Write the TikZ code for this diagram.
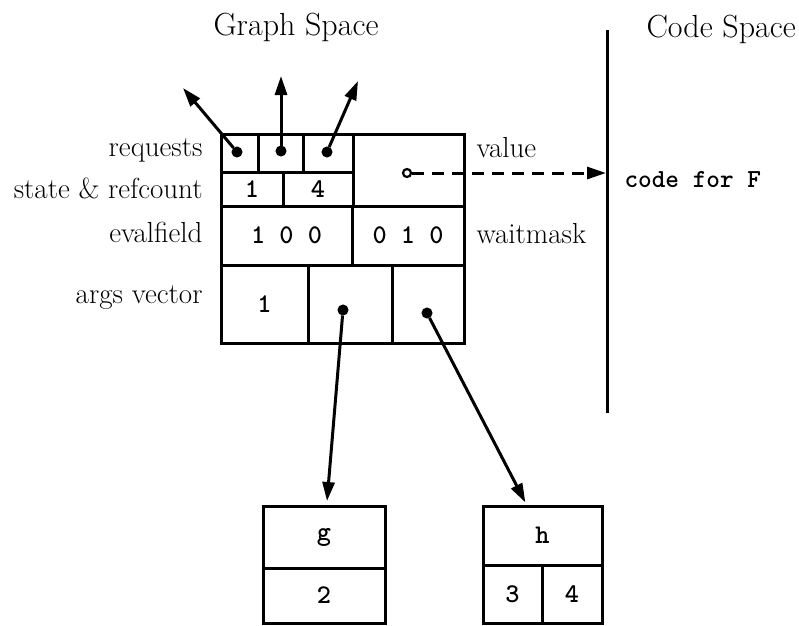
\documentclass[tikz,border=0pt]{standalone}
\usetikzlibrary{arrows.meta}
\begin{document}
\begin{tikzpicture}[x=1pt, y=-1pt, line width=3pt,
  cell/.style={draw, rectangle, inner sep=0pt, outer sep=0pt, anchor=north west,
    font=\ttfamily\bfseries\fontsize{27}{30}\selectfont},
  lbl/.style={font=\fontsize{29}{32}\selectfont, inner sep=0pt},
  ttl/.style={font=\fontsize{32}{36}\selectfont, inner sep=0pt, anchor=base west},
  ttlbl/.style={font=\ttfamily\bfseries\fontsize{26}{30}\selectfont, inner sep=0pt, anchor=base west},
  dot/.style={circle, fill, draw, inner sep=0pt, minimum size=10pt, line width=1pt},
  odot/.style={circle, draw, fill=white, inner sep=0pt, minimum size=8pt, line width=2.2pt},
  ptr/.style={-{Triangle[length=19pt,width=12pt]}},
  dashptr/.style={ptr, dash pattern=on 12pt off 8pt},
]
\useasboundingbox (0,0) rectangle (799,625);

% headings
\node[ttl] (gs) at (212,35) {Graph Space};
\node[ttl] (cs) at (645,37) {Code Space};

% the node record: requests row
\node[cell, minimum width=37pt, minimum height=38pt] (r1) at (221,134) {};
\node[cell, minimum width=45pt, minimum height=38pt] (r2) at (258,134) {};
\node[cell, minimum width=50pt, minimum height=38pt] (r3) at (303,134) {};
\node[cell, minimum width=111pt, minimum height=72pt] (val) at (353,134) {};
% state & refcount row
\node[cell, minimum width=62pt, minimum height=34pt] (s1) at (221,172) {1};
\node[cell, minimum width=70pt, minimum height=34pt] (s2) at (283,172) {4};
% evalfield / waitmask row
\node[cell, minimum width=131pt, minimum height=59pt] (e1) at (221,206) {1 0 0};
\node[cell, minimum width=112pt, minimum height=59pt] (e2) at (352,206) {0 1 0};
% args vector row
\node[cell, minimum width=87pt, minimum height=78pt] (a1) at (221,265) {1};
\node[cell, minimum width=84pt, minimum height=78pt] (a2) at (308,265) {};
\node[cell, minimum width=72pt, minimum height=78pt] (a3) at (392,265) {};

% field labels
\node[lbl, anchor=base east] (lreq) at (204,156) {requests};
\node[lbl, anchor=base east] (lst) at (204,198) {state \& refcount};
\node[lbl, anchor=base east] (lev) at (204,242) {evalfield};
\node[lbl, anchor=base east] (lav) at (204,303) {args vector};
\node[lbl, anchor=base west] (lval) at (475,157) {value};
\node[lbl, anchor=base west] (lwm) at (475,243) {waitmask};

% argument records
\node[cell, minimum width=122pt, minimum height=62pt] (g1) at (263,506) {g};
\node[cell, minimum width=122pt, minimum height=55pt] (g2) at (263,568) {2};
\node[cell, minimum width=119pt, minimum height=59pt] (h1) at (483,506) {h};
\node[cell, minimum width=59pt, minimum height=58pt] (h2) at (483,565) {3};
\node[cell, minimum width=60pt, minimum height=58pt] (h3) at (542,565) {4};

% code space divider and its label
\coordinate (cstop) at (607,30);
\coordinate (csbot) at (607,413);
\draw (cstop) -- (csbot);
\node[ttlbl] (code) at (623,187) {code for F};

% request pointers
\node[dot] (d1) at (237,152) {};
\node[dot] (d2) at (281,151) {};
\node[dot] (d3) at (327,152) {};
\coordinate (t1) at (183,88);
\coordinate (t2) at (281,76);
\coordinate (t3) at (358,81);
\draw[ptr] (d1) -- (t1);
\draw[ptr] (d2) -- (t2);
\draw[ptr] (d3) -- (t3);

% value pointer into code space
\node[odot] (vo) at (407,173) {};
\coordinate (cf) at (606,173);
\draw[dashptr] (vo) -- (cf);

% argument pointers
\node[dot] (p2) at (343,310) {};
\node[dot] (p3) at (427,313) {};
\draw[ptr, shorten >=5pt] (p2) -- (g1);
\draw[ptr, shorten >=4pt] (p3) -- (h1);
\end{tikzpicture}
\end{document}
